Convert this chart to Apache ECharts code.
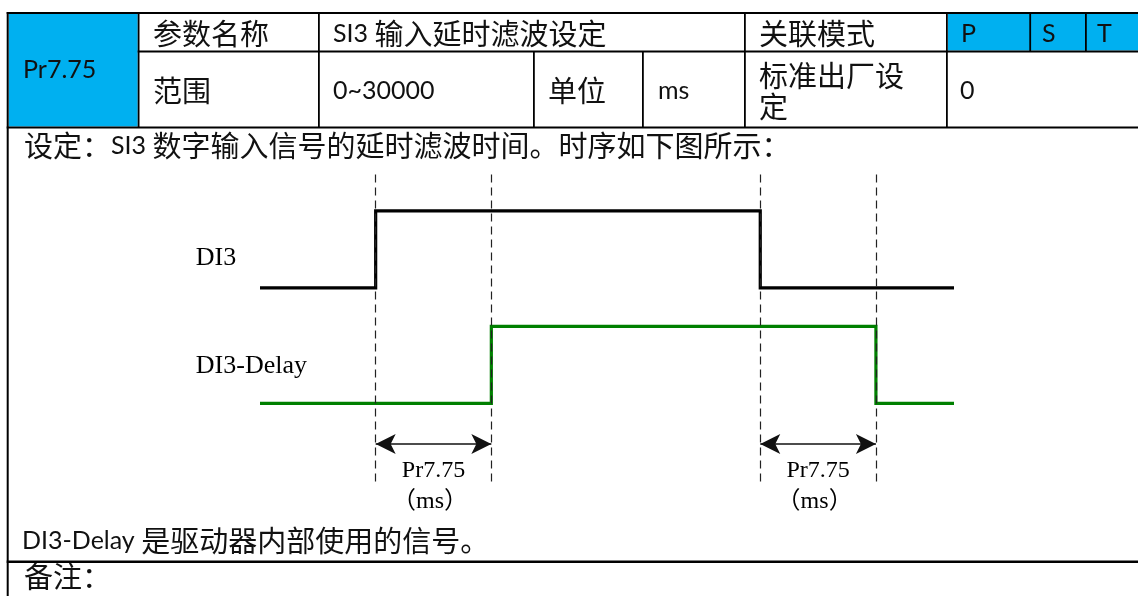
<!DOCTYPE html>
<html><head><meta charset="utf-8">
<script src="https://cdn.jsdelivr.net/npm/echarts@6/dist/echarts.min.js"></script>
<style>html,body{margin:0;padding:0;background:#fff}#c{width:1138px;height:596px}</style>
</head><body><div id="c"></div>
<script>
// ---------------- data ----------------
const paramCode = 'Pr7.75';
const headerRow1 = ['参数名称', 'SI3 输入延时滤波设定', '关联模式', 'P', 'S', 'T'];
const headerRow2 = ['范围', '0~30000', '单位', 'ms', '标准出厂设定', '0'];
const noteLines = ['设定：SI3 数字输入信号的延时滤波时间。时序如下图所示：', 'DI3-Delay 是驱动器内部使用的信号。', '备注：'];
const signalNames = ['DI3', 'DI3-Delay'];
const signalLevels = [[1.5, 2.5], [0, 1]];   // [low, high] for each signal
const timeSpan = [0, 120];
const di3Edges = [20, 86.5];                 // rising, falling
const filterDelay = 20;
const delayLabel = ['Pr7.75', '（ms）'];

// ---------------- layout / style ----------------
const BLUE = '#00B0F0';
const INK = '#111';
const RICH = {
  c: { fontFamily: 'Noto Sans CJK SC', fontSize: 29, lineHeight: 31 },
  l: { fontFamily: 'Lato', fontSize: 25, lineHeight: 31 }
};
function richText(str) {
  const re = /[\u3000-\u9fff\uff00-\uffef]+|[^\u3000-\u9fff\uff00-\uffef]+/g;
  return (str.match(re) || []).map(run => (/[\u3000-\u9fff\uff00-\uffef]/.test(run) ? '{c|' : '{l|') + run + '}').join('');
}
function txt(x, y, str, extra) {
  return { type: 'text', x: x, y: y, silent: true, z: 10,
    style: Object.assign({ text: richText(str), rich: RICH, fill: INK, align: 'left', verticalAlign: 'middle' }, extra || {}) };
}
function rect(x, y, w, h, fill) {
  return { type: 'rect', silent: true, z: 5, shape: { x: x, y: y, width: w, height: h }, style: { fill: fill } };
}

const graphics = [];
// blue cells
graphics.push(rect(8.7, 14, 129, 112.5, BLUE));
graphics.push(rect(948, 14, 190, 36.5, BLUE));
// horizontal rules
graphics.push(rect(6.7, 12, 1132, 2, '#000'));
graphics.push(rect(137.7, 50.5, 1001, 2, '#000'));
graphics.push(rect(6.7, 126.5, 1132, 2, '#000'));
graphics.push(rect(6.7, 560.5, 1132, 2.5, '#000'));
// vertical rules
graphics.push(rect(6.7, 12, 2, 584, '#000'));
[[137.7, 12, 116], [318, 12, 116], [533, 51, 77], [642, 51, 77], [744, 12, 116], [946, 12, 116], [1029.3, 12, 40], [1085, 12, 40]]
  .forEach(v => graphics.push(rect(v[0], v[1], 1.8, v[2], '#000')));

// header texts
graphics.push(txt(23, 70, paramCode));
const row1X = [153, 333, 759, 961, 1042, 1097];
headerRow1.forEach((s, i) => graphics.push(txt(row1X[i], 34, s)));
const row2X = [153, 333, 548, 658, 759, 960];
headerRow2.forEach((s, i) => {
  const extra = i === 4 ? { width: 172, overflow: 'break' } : {};
  graphics.push(txt(row2X[i], 91, s, extra));
});
// description lines
graphics.push(txt(24, 146, noteLines[0]));
graphics.push(txt(22, 541, noteLines[1]));
graphics.push(txt(24, 577, noteLines[2]));

// ---------------- timing diagram from data ----------------
function wave(edges, lv) {
  const [lo, hi] = lv;
  return [[timeSpan[0], lo], [edges[0], lo], [edges[0], hi], [edges[1], hi], [edges[1], lo], [timeSpan[1], lo]];
}
const delayEdges = di3Edges.map(t => t + filterDelay);
const di3Wave = wave(di3Edges, signalLevels[0]);
const delayWave = wave(delayEdges, signalLevels[1]);

const guideTop = 2.97, guideBottom = -1.07, arrowY = -0.53;
const guideTimes = [di3Edges[0], delayEdges[0], di3Edges[1], delayEdges[1]];
const guideLines = guideTimes.map(t => [{ coord: [t, guideTop] }, { coord: [t, guideBottom] }]);
const arrowLines = di3Edges.map((t, i) => [{ coord: [t, arrowY] }, { coord: [delayEdges[i], arrowY] }]);

const nameX = -11.1;
const nameLabels = signalNames.map((n, i) => ({ name: n, value: [nameX, signalLevels[i][0] + (i === 0 ? 0.39 : 0.48)] }));
const delayLabels = [];
di3Edges.forEach((t, i) => {
  const mid = (t + delayEdges[i]) / 2;
  delayLabels.push({ name: delayLabel[0], value: [mid, -0.88] });
  delayLabels.push({ name: delayLabel[1], value: [mid - 0.6, -1.28] });
});

const chart = echarts.init(document.getElementById('c'), null, { renderer: 'canvas' });
chart.setOption({
  animation: false,
  backgroundColor: '#fff',
  grid: { left: 260, right: 184, top: 172.3, bottom: 77.2 },
  xAxis: { type: 'value', min: timeSpan[0], max: timeSpan[1], show: false },
  yAxis: { type: 'value', min: -1.5, max: 3, show: false },
  graphic: { elements: graphics },
  series: [
    {
      name: signalNames[0], type: 'line', data: di3Wave, symbol: 'none', clip: false, silent: true, z: 4,
      lineStyle: { color: '#000', width: 3.2, join: 'miter', cap: 'butt' },
      markLine: {
        silent: true, symbol: ['none', 'none'], animation: false,
        label: { show: false },
        lineStyle: { color: '#222', width: 1.2, type: [8, 5], opacity: 1 },
        data: guideLines
      }
    },
    {
      name: signalNames[1], type: 'line', data: delayWave, symbol: 'none', clip: false, silent: true, z: 4,
      lineStyle: { color: '#008000', width: 3.2, join: 'miter', cap: 'butt' },
      markLine: {
        silent: true, symbol: ['arrow', 'arrow'], symbolSize: [15, 20], animation: false,
        label: { show: false },
        lineStyle: { color: '#111', width: 1.6, type: 'solid', opacity: 1 },
        itemStyle: { color: '#000', opacity: 1 },
        data: arrowLines
      }
    },
    {
      type: 'scatter', data: nameLabels, symbolSize: 0, clip: false, silent: true,
      itemStyle: { opacity: 1 },
      label: { show: true, position: 'right', distance: 0, formatter: '{b}', color: '#000',
        fontFamily: 'Liberation Serif', fontSize: 26 }
    },
    {
      type: 'scatter', data: delayLabels, symbolSize: 0, clip: false, silent: true,
      itemStyle: { opacity: 1 },
      label: { show: true, position: 'inside', formatter: '{b}', color: '#000',
        fontFamily: "'Liberation Serif', 'Noto Sans CJK SC'", fontSize: 24 }
    }
  ]
});
</script>
</body></html>
